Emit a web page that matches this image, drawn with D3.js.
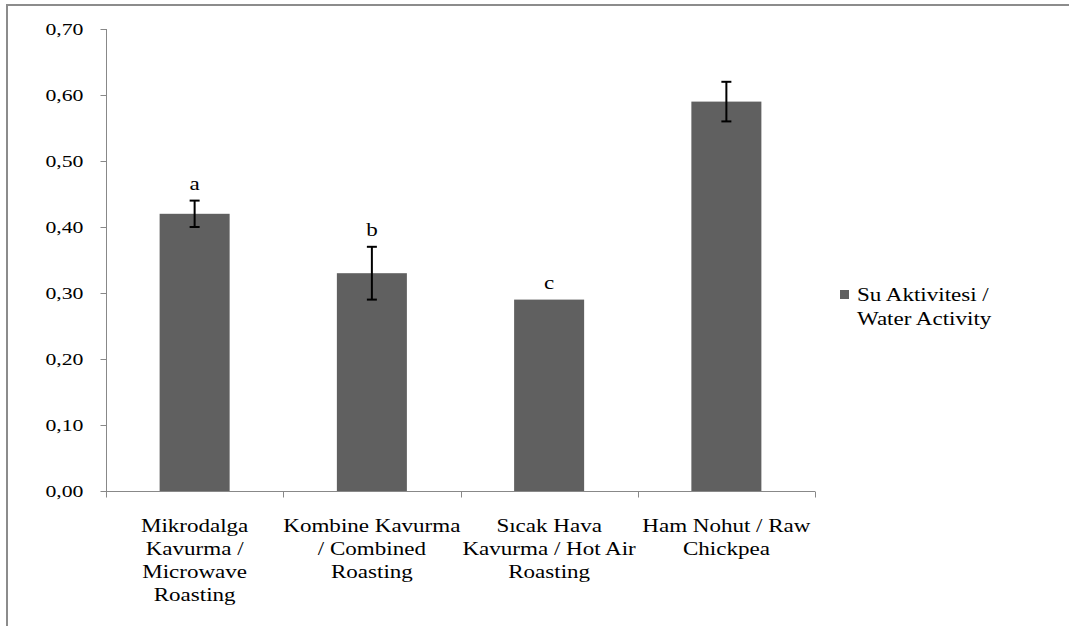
<!DOCTYPE html>
<html>
<head>
<meta charset="utf-8">
<script src="https://cdn.jsdelivr.net/npm/d3@7"></script>
<style>
  body { margin: 0; background: #fff; }
</style>
</head>
<body>
<svg id="chart" width="1069" height="626"></svg>
<script>
// category labels, one line per entry
var categories = [
    ["Mikrodalga", "Kavurma /", "Microwave", "Roasting"],
    ["Kombine Kavurma", "/ Combined", "Roasting"],
    ["Sıcak Hava", "Kavurma / Hot Air", "Roasting"],
    ["Ham Nohut / Raw", "Chickpea"]
];
var values = [0.42, 0.33, 0.29, 0.59];
var errors = [0.02, 0.04, 0, 0.03];
var letters = ["a", "b", "c", ""];
var yTicks = [0, 0.1, 0.2, 0.3, 0.4, 0.5, 0.6, 0.7];
var legendLines = ["Su Aktivitesi /", "Water Activity"];

var svg = d3.select("#chart")
        .attr("font-family", "Liberation Serif, DejaVu Serif, serif"),
    stretch = 1.28,
    barColor = "#606060",
    axisColor = "#888";

var rows = values.map(function (v, i) {
    return {i: i, value: v, err: errors[i], letter: letters[i]};
});

// outer frame (cut off on the right and bottom)
svg.append("path")
    .attr("d", "M7,700 L7,5 L1100,5")
    .attr("fill", "none")
    .attr("stroke", "#8c8c8c")
    .attr("stroke-width", 2);

var x = d3.scaleBand()
    .domain(d3.range(categories.length))
    .range([106, 815])
    .padding(0);
var y = d3.scaleLinear()
    .domain([0, 0.7])
    .range([491, 29]);
var barW = x.bandwidth() * 0.395;
var fmt = function (v) { return d3.format(".2f")(v).replace(".", ","); };
var mid = function (i) { return x(i) + x.bandwidth() / 2; };

// y axis
var yAxis = svg.append("g").attr("transform", "translate(106.5,0)");
yAxis.append("line")
    .attr("y1", y(0.7)).attr("y2", y(0))
    .attr("stroke", axisColor);
var yTick = yAxis.selectAll("g.tick").data(yTicks).enter().append("g")
    .attr("class", "tick")
    .attr("transform", function (d) { return "translate(0," + (Math.round(y(d)) + 0.5) + ")"; });
yTick.append("line")
    .attr("x1", -6).attr("x2", 0)
    .attr("stroke", axisColor);
yTick.append("text")
    .attr("transform", "translate(-23,0) scale(" + stretch + ",1)")
    .attr("text-anchor", "end")
    .attr("dy", ".34em")
    .attr("font-size", 17)
    .text(fmt);

// bars
svg.append("g").selectAll("rect").data(rows).enter().append("rect")
    .attr("x", function (d) { return mid(d.i) - barW / 2; })
    .attr("width", barW)
    .attr("y", function (d) { return y(d.value); })
    .attr("height", function (d) { return y(0) - y(d.value); })
    .attr("fill", barColor);

// x axis
var xAxis = svg.append("g").attr("transform", "translate(0," + (Math.round(y(0)) + 0.5) + ")");
xAxis.append("line")
    .attr("x1", x.range()[0]).attr("x2", x.range()[1])
    .attr("stroke", axisColor);
xAxis.selectAll("line.tick").data(d3.range(categories.length + 1)).enter().append("line")
    .attr("class", "tick")
    .attr("x1", function (i) { return Math.round(x.range()[0] + i * x.step()) + 0.5; })
    .attr("x2", function (i) { return Math.round(x.range()[0] + i * x.step()) + 0.5; })
    .attr("y1", 0).attr("y2", 6)
    .attr("stroke", axisColor);
var xLab = xAxis.selectAll("g.lab").data(categories).enter().append("g")
    .attr("class", "lab")
    .attr("transform", function (d, i) { return "translate(" + mid(i) + ",40) scale(" + stretch + ",1)"; });
xLab.append("text")
    .attr("text-anchor", "middle")
    .attr("font-size", 18)
    .selectAll("tspan").data(function (d) { return d; }).enter().append("tspan")
    .attr("x", 0)
    .attr("y", function (d, j) { return j * 23.3; })
    .text(function (d) { return d; });

// error bars
svg.append("g").selectAll("g").data(rows.filter(function (d) { return d.err > 0; }))
    .enter().append("g")
    .attr("stroke", "#000")
    .attr("stroke-width", 2)
    .each(function (d) {
        var g = d3.select(this), cx = mid(d.i),
            hi = y(d.value + d.err), lo = y(d.value - d.err);
        g.append("line").attr("x1", cx).attr("x2", cx).attr("y1", hi).attr("y2", lo);
        g.append("line").attr("x1", cx - 5).attr("x2", cx + 5).attr("y1", hi).attr("y2", hi);
        g.append("line").attr("x1", cx - 5).attr("x2", cx + 5).attr("y1", lo).attr("y2", lo);
    });

// significance letters
svg.append("g").selectAll("text").data(rows).enter().append("text")
    .attr("transform", function (d) {
        return "translate(" + mid(d.i) + "," + (y(d.value + d.err) - 11) + ") scale(" + stretch + ",1)";
    })
    .attr("text-anchor", "middle")
    .attr("font-size", 18)
    .text(function (d) { return d.letter; });

// legend
var legend = svg.append("g").attr("transform", "translate(840,290)");
legend.append("rect")
    .attr("width", 9).attr("height", 9)
    .attr("fill", barColor);
legend.append("text")
    .attr("transform", "translate(17,0) scale(" + stretch + ",1)")
    .attr("font-size", 18)
    .selectAll("tspan").data(legendLines).enter().append("tspan")
    .attr("x", 0)
    .attr("y", function (d, j) { return 11 + j * 24; })
    .text(function (d) { return d; });
</script>
</body>
</html>
